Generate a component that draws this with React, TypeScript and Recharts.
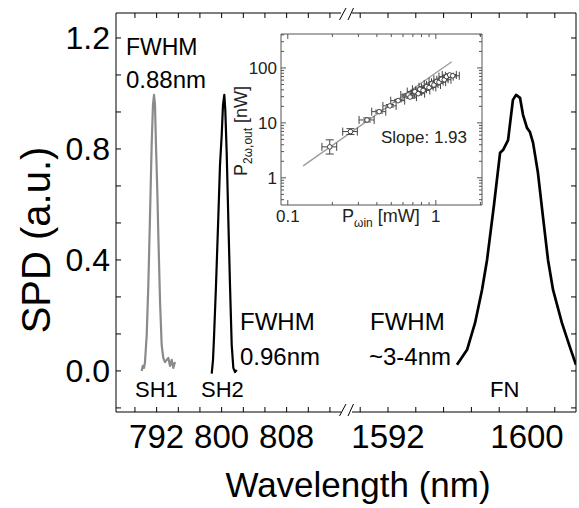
import React from 'react';
import { LineChart, Line, XAxis, YAxis, ComposedChart, Scatter, ErrorBar } from 'recharts';

const FONT = "'Liberation Sans', Arial, Helvetica, sans-serif";

// SH1 spectrum (gray), wavelength in nm / normalised SPD
const sh1Nm = [790.16, 790.29, 790.45, 790.57, 790.78, 790.98, 791.18, 791.39, 791.55, 791.68, 791.8, 791.92, 792.08, 792.21, 792.42, 792.62, 792.82, 793.03, 793.24, 793.44, 793.65, 793.86, 794.05, 794.26];
const sh1Spd = [0.0, 0.018, 0.011, 0.032, 0.13, 0.31, 0.551, 0.814, 0.959, 0.995, 0.959, 0.814, 0.652, 0.49, 0.249, 0.094, 0.047, 0.032, 0.04, 0.047, 0.018, 0.04, 0.011, 0.032];

// SH2 spectrum (black)
const sh2Nm = [798.78, 798.94, 799.06, 799.31, 799.59, 799.8, 800.01, 800.17, 800.33, 800.45, 800.62, 800.82, 801.03, 801.24, 801.44, 801.65, 801.86];
const sh2Spd = [-0.01, 0.04, 0.119, 0.31, 0.551, 0.742, 0.85, 0.959, 0.995, 0.941, 0.789, 0.551, 0.31, 0.094, 0.011, -0.004, 0.004];

// FN spectrum (thick black)
const fnNm = [1595.97, 1596.55, 1597.01, 1597.41, 1597.7, 1598.1, 1598.45, 1598.62, 1598.91, 1599.19, 1599.37, 1599.6, 1599.77, 1600.0, 1600.17, 1600.35, 1600.63, 1600.92, 1601.21, 1601.5, 1602.01, 1602.47, 1602.82];
const fnSpd = [0.022, 0.076, 0.173, 0.292, 0.4, 0.598, 0.786, 0.796, 0.832, 0.977, 0.995, 0.984, 0.923, 0.876, 0.861, 0.822, 0.714, 0.555, 0.4, 0.292, 0.173, 0.086, 0.022];

// main axis ticks
const xMajorNm = [792, 800, 808, 1592, 1600];
const xMinorNm = [789.33, 794.67, 797.33, 802.67, 805.33, 810.67, 813.33, 1590.4, 1593.6, 1595.2, 1596.8, 1598.4, 1601.6];
const yMajor = [0, 0.4, 0.8, 1.2];
const yMinor = [-0.1333, 0.1333, 0.2667, 0.5333, 0.6667, 0.9333, 1.0667];

// inset: P_w,in [mW] vs P_2w,out [nW]
const insetPw = [0.192, 0.265, 0.343, 0.414, 0.489, 0.556, 0.65, 0.67, 0.721, 0.76, 0.78, 0.82, 0.865, 0.9, 0.935, 0.97, 1.01, 1.05, 1.09, 1.14, 1.18, 1.24, 1.3];
const insetP2w = [3.66, 6.95, 11.3, 16.0, 20.4, 25.4, 32.3, 29.5, 37.1, 34.0, 41.0, 39.0, 45.7, 44.0, 51.2, 49.0, 56.4, 55.0, 62.3, 61.0, 69.5, 74.6, 72.0];
const insetPwErr = [0.022, 0.03, 0.04, 0.045, 0.05, 0.06, 0.07, 0.07, 0.08, 0.08, 0.085, 0.09, 0.095, 0.1, 0.1, 0.105, 0.11, 0.115, 0.12, 0.125, 0.13, 0.135, 0.14];
const insetP2wErrLo = [0.95, 0.8, 0.9, 0.9, 1.0, 1.2, 1.5, 1.4, 1.7, 1.6, 1.9, 1.8, 2.1, 2.0, 2.3, 2.2, 2.5, 2.5, 2.8, 2.7, 3.1, 3.3, 3.2];
const insetP2wErrHi = [1.25, 0.9, 1.0, 1.0, 1.2, 1.4, 1.7, 1.6, 1.9, 1.8, 2.1, 2.0, 2.4, 2.3, 2.6, 2.5, 2.8, 2.8, 3.1, 3.0, 3.5, 3.7, 3.6];
const fitPw = [0.127, 1.28];
const fitP2w = [1.65, 130];
const insetXTicks = [0.1, 0.2, 0.3, 0.4, 0.5, 0.6, 0.7, 0.8, 0.9, 1, 2];
const insetYTicks = [0.4, 0.5, 0.6, 0.7, 0.8, 0.9, 1, 2, 3, 4, 5, 6, 7, 8, 9, 10, 20, 30, 40, 50, 60, 70, 80, 90, 100, 200, 300, 400];

// broken x axis: both wavelength ranges share one axis in pixel-like units
const toU = (nm: number) => (nm < 1200 ? (nm - 787) * 8.125 : 272 + (nm - 1592) * 17.375);

const sh1Data = sh1Nm.map((nm, i) => ({ u: toU(nm), v: sh1Spd[i] }));
const sh2Data = sh2Nm.map((nm, i) => ({ u: toU(nm), v: sh2Spd[i] }));
const fnData = fnNm.map((nm, i) => ({ u: toU(nm), v: fnSpd[i] }));
const xTicksU = [...xMajorNm, ...xMinorNm].map(toU).sort((a, b) => a - b);
const yTicks = [...yMajor, ...yMinor].sort((a, b) => a - b);

const insetData = insetPw.map((x, i) => ({
  x,
  y: insetP2w[i],
  xe: insetPwErr[i],
  ye: [insetP2wErrLo[i], insetP2wErrHi[i]],
}));
const fitData = fitPw.map((x, i) => ({ x, y: fitP2w[i] }));

const xLabelFor = (u: number) => {
  const m = xMajorNm.find(nm => Math.abs(toU(nm) - u) < 0.5);
  return m === undefined ? '' : String(m);
};
const yLabelFor = (v: number) => (yMajor.some(m => Math.abs(m - v) < 1e-6) ? v.toFixed(1) : '');

const BottomTick = (p: any) => {
  const lab = xLabelFor(p.payload.value);
  return (
    <g>
      <line x1={p.x} y1={p.y} x2={p.x} y2={p.y - 5} stroke="#000" />
      {lab && <text x={p.x} y={p.y + 36} textAnchor="middle" fontSize={33} fill="#000">{lab}</text>}
    </g>
  );
};
const TopTick = (p: any) => <line x1={p.x} y1={p.y} x2={p.x} y2={p.y + 5} stroke="#000" />;
const LeftTick = (p: any) => {
  const lab = yLabelFor(p.payload.value);
  return (
    <g>
      <line x1={p.x} y1={p.y} x2={p.x + 5} y2={p.y} stroke="#000" />
      {lab && <text x={p.x - 6} y={p.y + 11.5} textAnchor="end" fontSize={32} fill="#000">{lab}</text>}
    </g>
  );
};
const RightTick = (p: any) => <line x1={p.x} y1={p.y} x2={p.x - 5} y2={p.y} stroke="#000" />;

// inset ticks (log axes)
const INSET = '#555';
const isDecade = (v: number) => Math.abs(Math.log10(v) - Math.round(Math.log10(v))) < 1e-6;
const InsetBottomTick = (p: any) => {
  const v = p.payload.value;
  const major = isDecade(v);
  return (
    <g>
      <line x1={p.x} y1={p.y} x2={p.x} y2={p.y - (major ? 5 : 3)} stroke={INSET} />
      {major && <text x={p.x} y={p.y + 17} textAnchor="middle" fontSize={17} fill="#222">{String(v)}</text>}
    </g>
  );
};
const InsetTopTick = (p: any) => {
  const major = isDecade(p.payload.value);
  return <line x1={p.x} y1={p.y} x2={p.x} y2={p.y + (major ? 5 : 3)} stroke={INSET} />;
};
const InsetLeftTick = (p: any) => {
  const v = p.payload.value;
  const major = isDecade(v);
  return (
    <g>
      <line x1={p.x} y1={p.y} x2={p.x + (major ? 5 : 3)} y2={p.y} stroke={INSET} />
      {major && <text x={p.x - 4} y={p.y + 6} textAnchor="end" fontSize={17} fill="#222">{String(v)}</text>}
    </g>
  );
};
const InsetRightTick = (p: any) => {
  const major = isDecade(p.payload.value);
  return <line x1={p.x} y1={p.y} x2={p.x - (major ? 5 : 3)} y2={p.y} stroke={INSET} />;
};

const OpenDot = (p: any) => <circle cx={p.cx} cy={p.cy} r={2.3} fill="#fff" stroke="#444" strokeWidth={1} />;

export default function App() {
  return (
    <div style={{ position: 'absolute', left: 0, top: 0, width: 579, height: 508, background: '#fff', fontFamily: FONT }}>
      <LineChart width={579} height={508} margin={{ top: 0, right: 0, bottom: 0, left: 0 }}>
        <XAxis xAxisId="b" type="number" dataKey="u" domain={[0, 460]} allowDataOverflow ticks={xTicksU} interval={0}
          height={96} tickSize={0} tickMargin={0} tickLine={false} axisLine={{ stroke: '#000' }} tick={BottomTick} />
        <XAxis xAxisId="t" orientation="top" type="number" dataKey="u" domain={[0, 460]} allowDataOverflow ticks={xTicksU} interval={0}
          height={13} tickSize={0} tickMargin={0} tickLine={false} axisLine={{ stroke: '#000' }} tick={TopTick} />
        <YAxis yAxisId="l" type="number" domain={[-0.148, 1.29]} allowDataOverflow ticks={yTicks} interval={0}
          width={116} tickSize={0} tickMargin={0} tickLine={false} axisLine={{ stroke: '#000' }} tick={LeftTick} />
        <YAxis yAxisId="r" orientation="right" type="number" domain={[-0.148, 1.29]} allowDataOverflow ticks={yTicks} interval={0}
          width={3} tickSize={0} tickMargin={0} tickLine={false} axisLine={{ stroke: '#000' }} tick={RightTick} />
        <Line xAxisId="b" yAxisId="l" data={sh1Data} dataKey="v" stroke="#8a8a8a" strokeWidth={2.2} dot={false} isAnimationActive={false} strokeLinejoin="round" />
        <Line xAxisId="b" yAxisId="l" data={sh2Data} dataKey="v" stroke="#000" strokeWidth={2.2} dot={false} isAnimationActive={false} strokeLinejoin="round" />
        <Line xAxisId="b" yAxisId="l" data={fnData} dataKey="v" stroke="#000" strokeWidth={2.7} dot={false} isAnimationActive={false} strokeLinejoin="round" />
      </LineChart>

      {/* inset: SH power vs fundamental power */}
      <ComposedChart width={262} height={205} margin={{ top: 0, right: 0, bottom: 0, left: 0 }}
        style={{ position: 'absolute', left: 225, top: 25 }}>
        <XAxis xAxisId="b" type="number" dataKey="x" scale="log" domain={[0.09, 2.05]} allowDataOverflow ticks={insetXTicks} interval={0}
          height={25} tickSize={0} tickMargin={0} tickLine={false} axisLine={{ stroke: INSET }} tick={InsetBottomTick} />
        <XAxis xAxisId="t" orientation="top" type="number" dataKey="x" scale="log" domain={[0.09, 2.05]} allowDataOverflow ticks={insetXTicks} interval={0}
          height={9} tickSize={0} tickMargin={0} tickLine={false} axisLine={{ stroke: INSET }} tick={InsetTopTick} />
        <YAxis yAxisId="l" type="number" dataKey="y" scale="log" domain={[0.32, 415]} allowDataOverflow ticks={insetYTicks} interval={0}
          width={56} tickSize={0} tickMargin={0} tickLine={false} axisLine={{ stroke: INSET }} tick={InsetLeftTick} />
        <YAxis yAxisId="r" orientation="right" type="number" dataKey="y" scale="log" domain={[0.32, 415]} allowDataOverflow ticks={insetYTicks} interval={0}
          width={5} tickSize={0} tickMargin={0} tickLine={false} axisLine={{ stroke: INSET }} tick={InsetRightTick} />
        <Line xAxisId="b" yAxisId="l" data={fitData} dataKey="y" stroke="#9a9a9a" strokeWidth={1.3} dot={false} isAnimationActive={false} />
        <Scatter xAxisId="b" yAxisId="l" data={insetData} dataKey="y" shape={OpenDot} isAnimationActive={false}>
          <ErrorBar dataKey="xe" direction="x" width={4} stroke="#444" strokeWidth={1} isAnimationActive={false} />
          <ErrorBar dataKey="ye" direction="y" width={4} stroke="#444" strokeWidth={1} isAnimationActive={false} />
        </Scatter>
      </ComposedChart>

      <svg width={579} height={508} style={{ position: 'absolute', left: 0, top: 0, pointerEvents: 'none' }} fontFamily={FONT}>
        <text transform="translate(50,240) rotate(-90)" textAnchor="middle" fontSize={40} fill="#000">SPD (a.u.)</text>
        <text x={358} y={497} textAnchor="middle" fontSize={35} fill="#000">Wavelength (nm)</text>

        <text x={126} y={55} fontSize={23} fill="#000">FWHM</text>
        <text x={126} y={88} fontSize={24} fill="#000">0.88nm</text>
        <text x={240} y={330} fontSize={24} fill="#000">FWHM</text>
        <text x={240} y={365} fontSize={24} fill="#000">0.96nm</text>
        <text x={370} y={330} fontSize={24} fill="#000">FWHM</text>
        <text x={369} y={365} fontSize={24} fill="#000">~3-4nm</text>
        <text x={135} y={397} fontSize={22} fill="#000">SH1</text>
        <text x={201} y={397} fontSize={22} fill="#000">SH2</text>
        <text x={490} y={397} fontSize={22} fill="#000">FN</text>

        {/* axis break marks */}
        <rect x={341} y={10} width={11} height={6} fill="#fff" />
        <line x1={339.5} y1={20} x2={346} y2={8} stroke="#000" />
        <line x1={348} y1={20} x2={353.5} y2={8} stroke="#000" />
        <rect x={341} y={409} width={11} height={6} fill="#fff" />
        <line x1={339.5} y1={416} x2={346} y2={404} stroke="#000" />
        <line x1={348} y1={416} x2={353.5} y2={404} stroke="#000" />

        {/* inset labels */}
        <text x={381} y={143} fontSize={17} fill="#222">Slope: 1.93</text>
        <text x={342} y={222} fontSize={18} fill="#222">
          <tspan fill="#222">P</tspan>
          <tspan fontSize={12} dy={5} fill="#222">ωin</tspan>
          <tspan dy={-5} fill="#222"> [mW]</tspan>
        </text>
        <text transform="translate(247,176) rotate(-90)" fontSize={18} fill="#222">
          <tspan fill="#222">P</tspan>
          <tspan fontSize={12} dy={5} fill="#222">2ω,out</tspan>
          <tspan dy={-5} fill="#222"> [nW]</tspan>
        </text>
      </svg>
    </div>
  );
}
